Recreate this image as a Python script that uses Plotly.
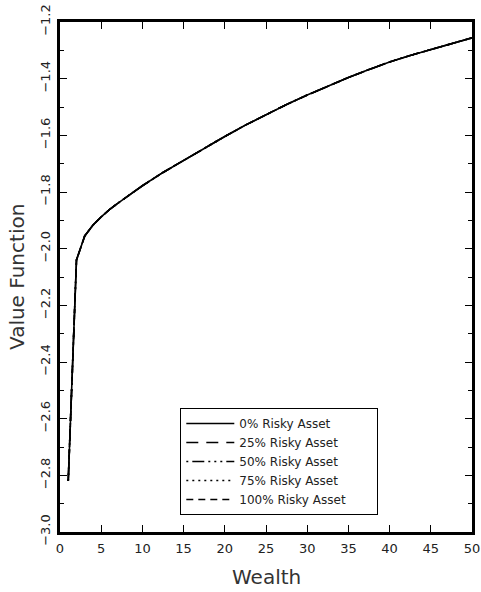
import plotly.graph_objects as go

# Wealth grid and value-function readings (all five allocations overlap)
wealth = [1, 2, 3, 4, 5, 6, 7, 8, 10, 12.5, 15, 17.5, 20, 22.5, 25, 27.5,
          30, 32.5, 35, 37.5, 40, 42.5, 45, 47.5, 50]
value_0 = [-2.82, -2.04, -1.955, -1.917, -1.888, -1.862, -1.840, -1.819, -1.778,
           -1.731, -1.688, -1.647, -1.604, -1.564, -1.526, -1.491, -1.458,
           -1.427, -1.396, -1.368, -1.341, -1.318, -1.297, -1.276, -1.256]
value_25 = [-2.82, -2.04, -1.955, -1.917, -1.888, -1.862, -1.840, -1.819, -1.778,
            -1.731, -1.688, -1.647, -1.604, -1.564, -1.526, -1.491, -1.458,
            -1.427, -1.396, -1.368, -1.341, -1.318, -1.297, -1.276, -1.256]
value_50 = [-2.82, -2.04, -1.955, -1.917, -1.888, -1.862, -1.840, -1.819, -1.778,
            -1.731, -1.688, -1.647, -1.604, -1.564, -1.526, -1.491, -1.458,
            -1.427, -1.396, -1.368, -1.341, -1.318, -1.297, -1.276, -1.256]
value_75 = [-2.82, -2.04, -1.955, -1.917, -1.888, -1.862, -1.840, -1.819, -1.778,
            -1.731, -1.688, -1.647, -1.604, -1.564, -1.526, -1.491, -1.458,
            -1.427, -1.396, -1.368, -1.341, -1.318, -1.297, -1.276, -1.256]
value_100 = [-2.82, -2.04, -1.955, -1.917, -1.888, -1.862, -1.840, -1.819, -1.778,
             -1.731, -1.688, -1.647, -1.604, -1.564, -1.526, -1.491, -1.458,
             -1.427, -1.396, -1.368, -1.341, -1.318, -1.297, -1.276, -1.256]

series_names = ["0% Risky Asset", "25% Risky Asset", "50% Risky Asset",
                "75% Risky Asset", "100% Risky Asset"]
series_values = [value_0, value_25, value_50, value_75, value_100]
series_dash = ["solid", "12px,8px", "2px,4px,12px,4px,2px,4px,2px,4px", "2px,4px", "7px,5px"]

x_ticks = [0, 5, 10, 15, 20, 25, 30, 35, 40, 45, 50]
y_ticks = [-3.0, -2.8, -2.6, -2.4, -2.2, -2.0, -1.8, -1.6, -1.4, -1.2]

FONT = "DejaVu Sans"
INK = "#222222"
PAD = "\u00a0" * 7

fig = go.Figure()
for name, vals, dash in zip(series_names, series_values, series_dash):
    fig.add_trace(go.Scatter(x=wealth, y=vals, mode="lines", name=name + PAD,
                             line=dict(color="black", width=1.6, dash=dash)))

fig.update_layout(
    width=481, height=592,
    margin=dict(l=60, r=9, t=22, b=60, autoexpand=False),
    paper_bgcolor="white", plot_bgcolor="white",
    font=dict(family=FONT, size=13, color=INK),
    showlegend=True,
    legend=dict(x=0.292, y=0.243, xanchor="left", yanchor="top",
                bgcolor="white", bordercolor="black", borderwidth=1,
                font=dict(family=FONT, size=12, color=INK),
                itemwidth=48, tracegroupgap=0),
    annotations=[
        dict(text="Value Function", x=0, y=0.5, xref="paper", yref="paper",
             xanchor="center", yanchor="middle", xshift=-43, textangle=-90,
             showarrow=False, font=dict(family=FONT, size=20, color="#333333")),
        dict(text="Wealth", x=0.5, y=0, xref="paper", yref="paper",
             xanchor="center", yanchor="middle", yshift=-45,
             showarrow=False, font=dict(family=FONT, size=20, color="#333333")),
    ],
)

fig.update_xaxes(range=[0, 50], tickvals=x_ticks, ticktext=[str(v) for v in x_ticks],
                 ticks="inside", ticklen=7, tickwidth=1, tickcolor="black",
                 showline=True, linecolor="black", linewidth=2.5, mirror="allticks",
                 showgrid=False, zeroline=False, automargin=False,
                 ticklabelstandoff=3,
                 tickfont=dict(family=FONT, size=13, color=INK))
fig.update_yaxes(range=[-3.0, -1.2], tickvals=y_ticks,
                 ticktext=[("\u2212%.1f" % abs(v)) for v in y_ticks],
                 ticks="inside", ticklen=7, tickwidth=1, tickcolor="black",
                 minor=dict(dtick=0.1, tick0=-3.0, ticks="inside", ticklen=4,
                            tickwidth=1, tickcolor="black", showgrid=False),
                 showline=True, linecolor="black", linewidth=2.5, mirror="allticks",
                 showgrid=False, zeroline=False, tickangle=-90, automargin=False,
                 ticklabelstandoff=2,
                 tickfont=dict(family=FONT, size=13, color=INK))

fig.write_html("out.html")
